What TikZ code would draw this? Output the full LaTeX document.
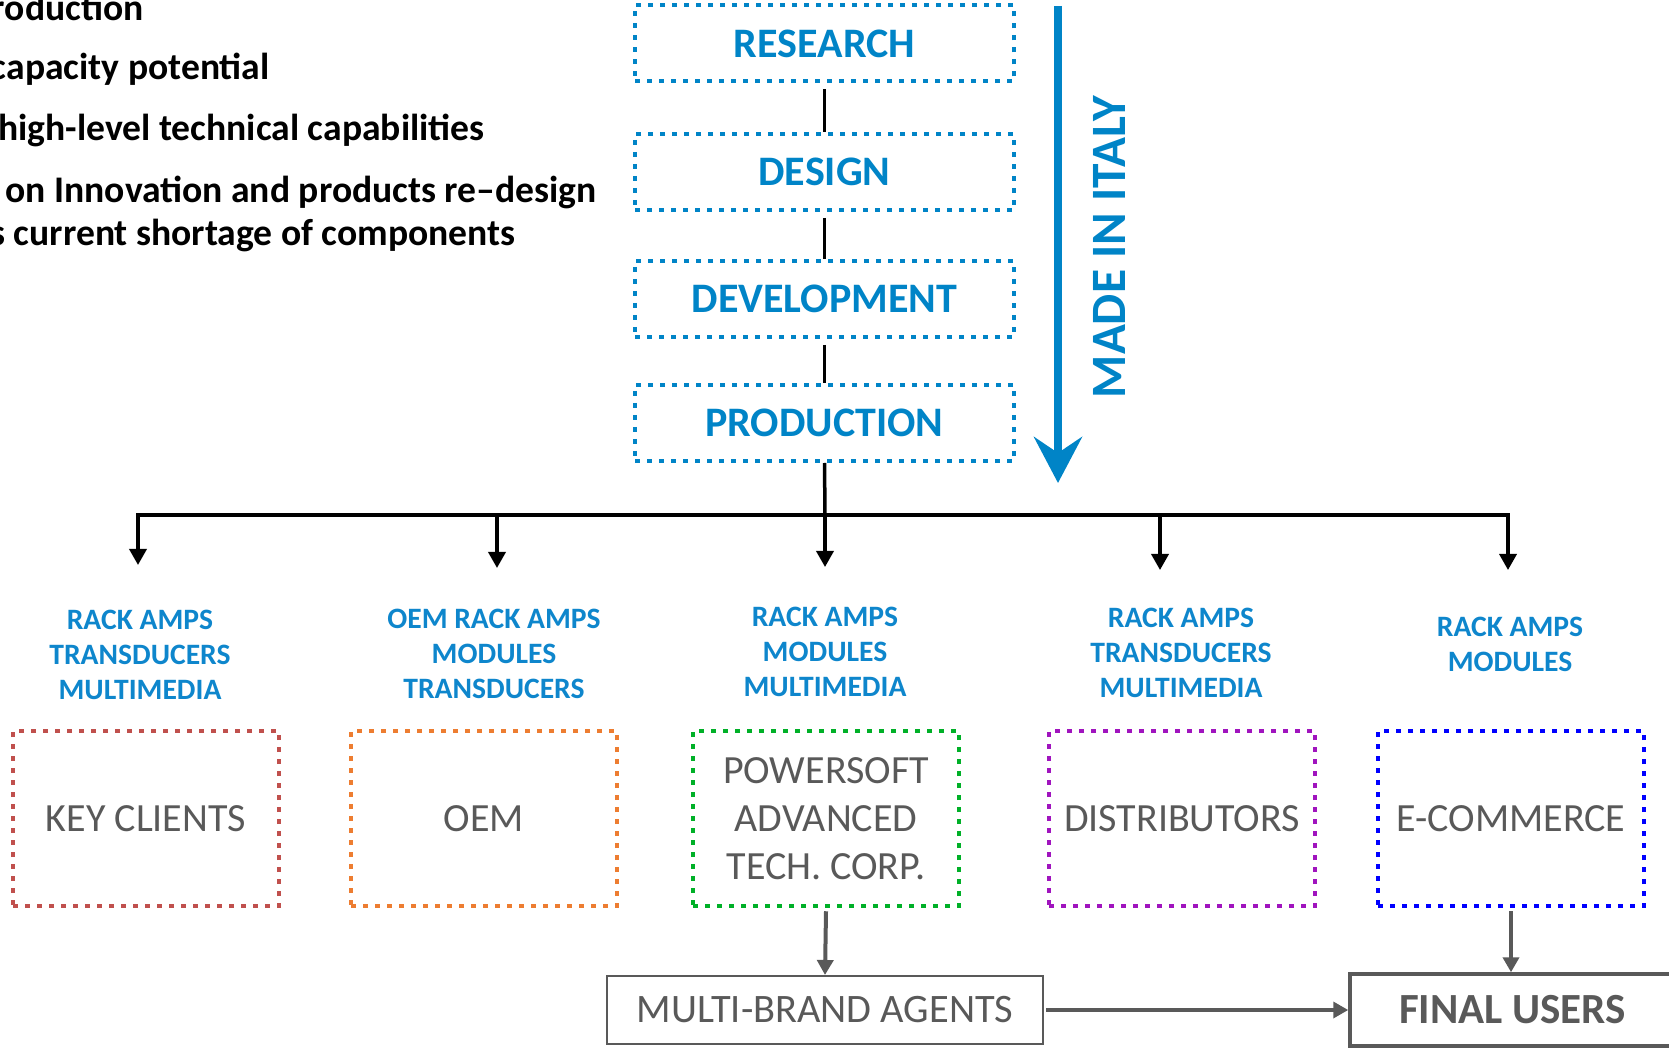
\documentclass[tikz,border=0pt]{standalone}
\usepackage{fontspec}
\setmainfont{Carlito}
\usetikzlibrary{arrows.meta}
\definecolor{pblue}{RGB}{0,132,199}
\definecolor{lblue}{RGB}{14,134,204}
\definecolor{tgray}{RGB}{89,89,89}
\definecolor{kred}{RGB}{192,80,77}
\definecolor{korange}{RGB}{237,125,49}
\definecolor{kgreen}{RGB}{0,176,40}
\definecolor{kpurple}{RGB}{160,20,190}
\definecolor{kblue}{RGB}{0,0,255}
\begin{document}
\begin{tikzpicture}[x=0.5pt,y=-0.5pt,
 stepbox/.style={draw=pblue, line width=2pt, dash pattern=on 2.5pt off 3.5pt, minimum width=189.5pt, minimum height=38pt, inner sep=0pt, text=pblue, font=\fontsize{21}{25}\selectfont\bfseries},
 chanbox/.style={line width=2.25pt, dash pattern=on 2.5pt off 3.5pt, minimum width=133pt, minimum height=87.5pt, inner sep=0pt, text=tgray, align=center, font=\fontsize{20}{24}\selectfont},
 prodlabel/.style={text=lblue, align=center, font=\fontsize{14.8}{17.5}\selectfont\bfseries, inner sep=0pt},
 link/.style={line width=1.75pt, black},
 drop/.style={line width=1.75pt, black, line join=miter, -{Triangle[width=8.5pt,length=8pt]}},
 dropboth/.style={line width=1.75pt, black, line join=miter, {Triangle[width=8.5pt,length=8pt]}-{Triangle[width=8.5pt,length=8pt]}},
 garrow/.style={line width=2pt, tgray, -{Triangle[width=8pt,length=7.5pt]}},
 endbox/.style={draw=tgray, line width=1pt, inner sep=0pt, text=tgray, font=\fontsize{20.2}{25}\selectfont},
 note/.style={anchor=base east, inner sep=0pt, font=\fontsize{18.8}{22}\selectfont\bfseries}
]
\useasboundingbox (0,0) rectangle (1669,1052);
% left notes (cut by the left edge)
\node[note] (n1) at (144,21) {roduction};
\node[note] (n2) at (270,80) {capacity potential};
\node[note] (n3) at (485,141) {high-level technical capabilities};
\node[note] (n4) at (597,203) {on Innovation and products re–design};
\node[note] (n5) at (516,246) {s current shortage of components};
% process steps
\node[stepbox] (res) at (824.5,43.5) {RESEARCH};
\node[stepbox] (des) at (824.5,172) {DESIGN};
\node[stepbox] (dev) at (824.5,299) {DEVELOPMENT};
\node[stepbox] (pro) at (824.5,423) {PRODUCTION};
\draw[link] (res.south) ++(0,6) -- (des.north);
\draw[link] (des.south) ++(0,6) -- (dev.north);
\draw[link] (dev.south) ++(0,6) -- (pro.north);
% made in italy arrow
\coordinate (mtop) at (1058,6);
\coordinate (mbot) at (1058,483);
\draw[pblue, line width=4pt, -{Stealth[width=24pt,length=23pt,inset=8pt]}] (mtop) -- (mbot);
\node[rotate=90, text=pblue, font=\fontsize{24.7}{28}\selectfont\bfseries, inner sep=0pt] (italy) at (1109,247) {MADE IN ITALY};
% bus
\coordinate (b1) at (138,515);
\coordinate (b2) at (497,515);
\coordinate (b3) at (825,515);
\coordinate (b4) at (1160,515);
\coordinate (b5) at (1508,515);
\coordinate (t1) at (138,565);
\coordinate (t2) at (497,568);
\coordinate (t3) at (825,567);
\coordinate (t4) at (1160,570);
\coordinate (t5) at (1508,570);
\draw[link] (pro.south) -- (b3);
\draw[dropboth] (t1) |- (b5) -- (t5);
\draw[drop] (b2) -- (t2);
\draw[drop] (b3) -- (t3);
\draw[drop] (b4) -- (t4);
% product labels
\node[prodlabel] (l1) at (140,655) {RACK AMPS\\TRANSDUCERS\\MULTIMEDIA};
\node[prodlabel] (l2) at (494,654) {OEM RACK AMPS\\MODULES\\TRANSDUCERS};
\node[prodlabel] (l3) at (825,652) {RACK AMPS\\MODULES\\MULTIMEDIA};
\node[prodlabel] (l4) at (1181,653) {RACK AMPS\\TRANSDUCERS\\MULTIMEDIA};
\node[prodlabel] (l5) at (1510,644) {RACK AMPS\\MODULES};
% channel boxes
\node[chanbox, draw=kred] (key) at (146,818.5) {KEY CLIENTS};
\node[chanbox, draw=korange] (oem) at (484,818.5) {OEM};
\node[chanbox, draw=kgreen] (pwr) at (826,818.5) {POWERSOFT\\ADVANCED\\TECH. CORP.};
\node[chanbox, draw=kpurple] (dis) at (1182,818.5) {DISTRIBUTORS};
\node[chanbox, draw=kblue] (eco) at (1511,818.5) {E-COMMERCE};
% bottom boxes
\node[endbox, minimum width=218pt, minimum height=34pt] (agents) at (825,1010) {MULTI-BRAND AGENTS};
\node[endbox, line width=1.75pt, minimum width=162.5pt, minimum height=36pt, font=\fontsize{21.5}{25}\selectfont\bfseries] (users) at (1512.5,1010) {FINAL USERS};
\draw[garrow] (pwr.south) ++(0,3) -- (agents.north);
\draw[garrow] (eco.south) ++(0,3) -- (eco.south |- users.north);
\draw[garrow, line width=1.75pt] (agents.east) ++(2,0) -- (users.west);
\end{tikzpicture}
\end{document}
